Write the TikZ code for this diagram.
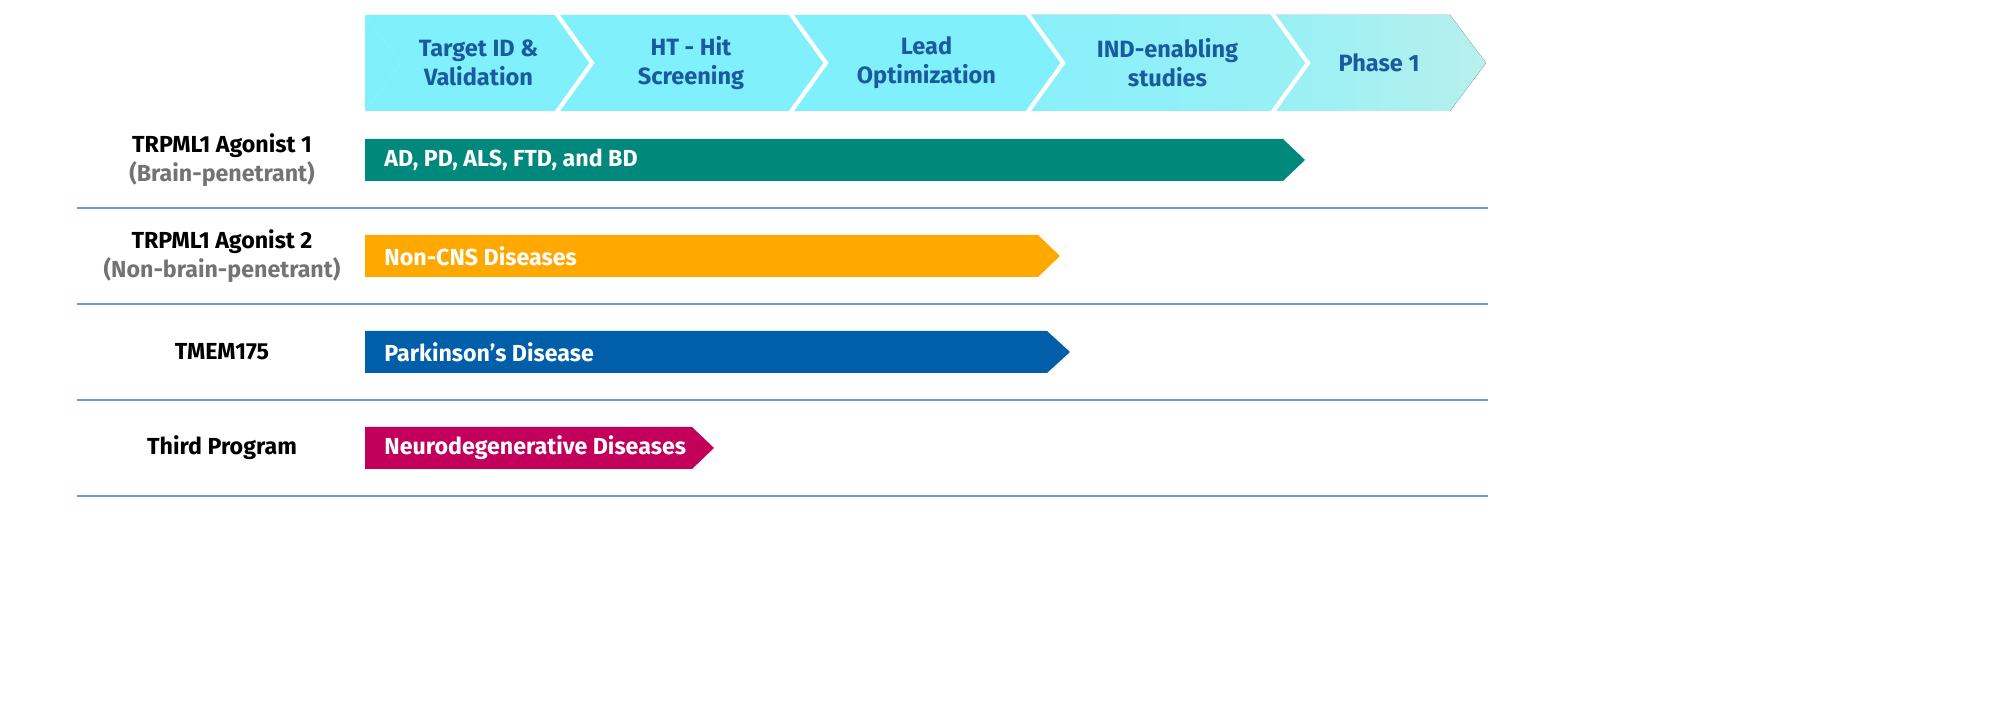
\documentclass[tikz,border=0pt]{standalone}
\usepackage{fontspec}
\setmainfont{Fira Sans}
\definecolor{stagecyan}{HTML}{80F0FC}
\definecolor{stagepale}{HTML}{B8F0EC}
\definecolor{stagetext}{HTML}{1A5A9E}
\definecolor{barteal}{HTML}{00887C}
\definecolor{barorange}{HTML}{FFA800}
\definecolor{barblue}{HTML}{005FA8}
\definecolor{barmagenta}{HTML}{C2005C}
\definecolor{rulecol}{HTML}{6A9ED8}
\tikzset{
  stagetxt/.style={font=\fontsize{6.7}{8.3}\selectfont\bfseries, text=stagetext, align=center},
  prog/.style={font=\fontsize{6.6}{8.3}\selectfont\bfseries, align=center},
  bartxt/.style={font=\fontsize{6.6}{8}\selectfont\bfseries, text=white, anchor=west},
  rowline/.style={rulecol, line width=0.5pt}
}
\begin{document}
\begin{tikzpicture}[x=0.01cm,y=-0.01cm]
\useasboundingbox (0,0) rectangle (2000,713);
% the stage chevrons
\foreach \a/\b/\t [count=\i] in {365/556/{Target ID \&\\Validation},556/790/{HT - Hit\\Screening},790/1027/{Lead\\Optimization},1027/1272/{IND-enabling\\studies},1272/1450/{Phase 1}}{
  \ifnum\i=5
    \fill[left color=stagecyan!60!stagepale, right color=stagepale] (\a,15) -- (\b,15) -- (\b+36,63) -- (\b,111) -- (\a,111) -- (\a+36,63) -- cycle;
  \else\ifnum\i=4
    \fill[left color=stagecyan!85!stagepale, right color=stagecyan!55!stagepale] (\a,15) -- (\b,15) -- (\b+36,63) -- (\b,111) -- (\a,111) -- (\a+36,63) -- cycle;
  \else
    \fill[stagecyan] (\a,15) -- (\b,15) -- (\b+36,63) -- (\b,111) -- (\a,111) -- (\a+36,63) -- cycle;
  \fi\fi
  \node[stagetxt] (stage\i) at ({(\a+\b)/2+18},63) {\t};
}
% first chevron has a flat left end
\fill[stagecyan] (365,15) -- (401,63) -- (365,111) -- cycle;
\foreach \a in {556,790,1027,1272}
  \draw[white, line width=1.2pt] (\a,13) -- (\a+36,63) -- (\a,113);
% the programme bars
\fill[barteal] (365,139) -- (1283,139) -- (1305,160) -- (1283,181) -- (365,181) -- cycle;
\node[bartxt] (bar1) at (372,160) {AD, PD, ALS, FTD, and BD};
\fill[barorange] (365,235) -- (1038,235) -- (1060,256) -- (1038,277) -- (365,277) -- cycle;
\node[bartxt] (bar2) at (372,256) {Non-CNS Diseases};
\fill[barblue] (365,331) -- (1047,331) -- (1070,352) -- (1047,373) -- (365,373) -- cycle;
\node[bartxt] (bar3) at (372,352) {Parkinson’s Disease};
\fill[barmagenta] (365,427) -- (692,427) -- (714,448) -- (692,469) -- (365,469) -- cycle;
\node[bartxt] (bar4) at (372,448) {Neurodegenerative Diseases};
% the programme names
\node[prog] (prog1) at (222,160) {TRPML1 Agonist 1\\\textcolor{black!55}{(Brain-penetrant)}};
\node[prog] (prog2) at (222,256) {TRPML1 Agonist 2\\\textcolor{black!55}{(Non-brain-penetrant)}};
\node[prog] (prog3) at (222,352) {TMEM175};
\node[prog] (prog4) at (222,448) {Third Program};
% the row rules
\foreach \y in {208,304,400,496}
  \draw[rowline] (77,\y) -- (1488,\y);
\end{tikzpicture}
\end{document}
